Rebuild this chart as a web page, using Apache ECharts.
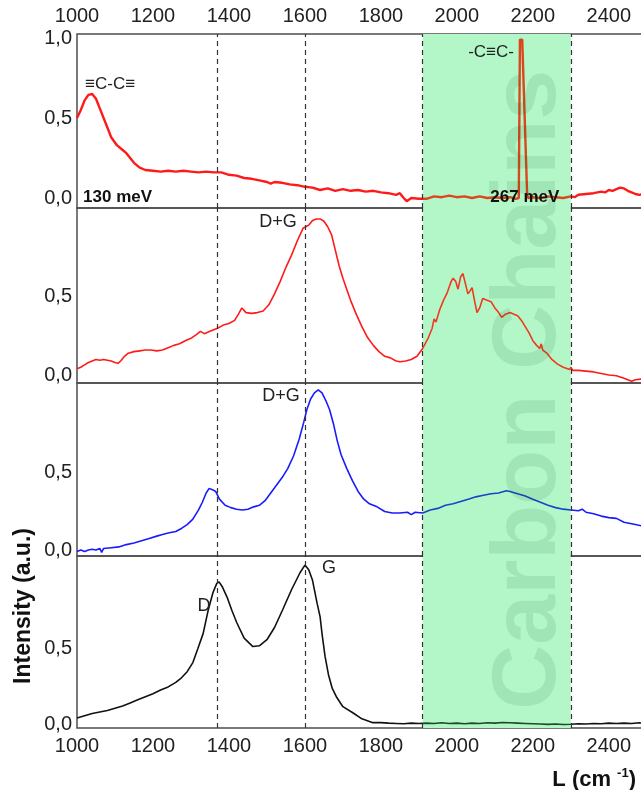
<!DOCTYPE html>
<html>
<head>
<meta charset="utf-8">
<script src="https://cdn.jsdelivr.net/npm/echarts@6/dist/echarts.min.js"></script>
<style>
  html, body { margin: 0; padding: 0; background: #fff; }
  #chart { width: 641px; height: 790px; }
</style>
</head>
<body>
<div id="chart"></div>
<script>
// x tick labels
var xTicks = [1000, 1200, 1400, 1600, 1800, 2000, 2200, 2400]

// panel 1 (top, red)
var shift1 = [1000, 1010, 1020, 1030, 1040, 1050, 1060, 1075, 1090, 1105, 1120, 1130, 1140, 1150, 1165, 1180, 1200, 1220, 1240, 1260, 1280, 1300, 1320, 1340, 1360, 1380, 1400, 1420, 1440, 1460, 1480, 1500, 1510, 1520, 1540, 1560, 1580, 1600, 1620, 1640, 1660, 1680, 1700, 1720, 1740, 1760, 1780, 1800, 1820, 1840, 1850, 1860, 1868, 1880, 1900, 1920, 1940, 1960, 1980, 2000, 2020, 2040, 2060, 2080, 2100, 2120, 2140, 2155, 2163, 2166, 2172, 2185, 2188, 2200, 2220, 2240, 2260, 2280, 2300, 2310, 2320, 2340, 2360, 2380, 2390, 2400, 2410, 2420, 2430, 2440, 2450, 2460, 2470, 2480, 2490]
var int1 = [0.50, 0.55, 0.61, 0.645, 0.65, 0.62, 0.56, 0.47, 0.38, 0.33, 0.30, 0.28, 0.25, 0.22, 0.19, 0.175, 0.17, 0.165, 0.17, 0.165, 0.17, 0.165, 0.16, 0.165, 0.16, 0.16, 0.145, 0.14, 0.125, 0.12, 0.11, 0.10, 0.09, 0.10, 0.095, 0.085, 0.08, 0.07, 0.065, 0.05, 0.06, 0.045, 0.055, 0.045, 0.05, 0.04, 0.045, 0.035, 0.03, 0.02, 0.03, 0.0, -0.02, 0.0, -0.005, -0.005, 0.01, 0.005, 0.015, 0.005, 0.01, 0.0, 0.01, 0.0, 0.005, 0.0, 0.005, -0.005, 0.0, 0.99, 0.99, 0.02, 0.0, 0.005, 0.0, 0.01, 0.005, 0.0, 0.01, 0.005, 0.02, 0.025, 0.03, 0.04, 0.035, 0.05, 0.045, 0.055, 0.065, 0.06, 0.045, 0.035, 0.025, 0.02, 0.025]

// panel 2 (red)
var shift2 = [1000, 1010, 1020, 1030, 1040, 1050, 1060, 1070, 1080, 1090, 1100, 1108, 1115, 1125, 1135, 1150, 1165, 1180, 1195, 1210, 1225, 1240, 1255, 1270, 1285, 1300, 1315, 1325, 1335, 1350, 1370, 1385, 1400, 1415, 1425, 1434, 1445, 1460, 1475, 1490, 1505, 1520, 1535, 1550, 1565, 1580, 1595, 1610, 1620, 1630, 1640, 1650, 1660, 1670, 1680, 1690, 1700, 1710, 1720, 1735, 1750, 1765, 1780, 1795, 1810, 1825, 1840, 1850, 1865, 1880, 1895, 1910, 1925, 1935, 1940, 1945, 1955, 1965, 1975, 1985, 1990, 1997, 2003, 2010, 2016, 2022, 2029, 2035, 2040, 2047, 2053, 2060, 2068, 2078, 2090, 2100, 2110, 2118, 2128, 2140, 2150, 2160, 2170, 2180, 2190, 2200, 2210, 2218, 2222, 2226, 2237, 2250, 2265, 2280, 2297, 2300, 2305, 2320, 2340, 2360, 2380, 2400, 2420, 2440, 2460, 2470, 2490]
var int2 = [0.04, 0.05, 0.065, 0.08, 0.09, 0.10, 0.095, 0.10, 0.095, 0.09, 0.08, 0.075, 0.09, 0.12, 0.14, 0.15, 0.155, 0.16, 0.16, 0.155, 0.16, 0.175, 0.19, 0.20, 0.22, 0.235, 0.26, 0.28, 0.265, 0.28, 0.30, 0.32, 0.33, 0.35, 0.39, 0.43, 0.40, 0.395, 0.40, 0.41, 0.45, 0.52, 0.60, 0.69, 0.77, 0.86, 0.94, 0.96, 0.99, 1.0, 1.0, 0.985, 0.95, 0.90, 0.80, 0.70, 0.62, 0.55, 0.48, 0.39, 0.31, 0.24, 0.19, 0.15, 0.12, 0.11, 0.09, 0.085, 0.09, 0.10, 0.12, 0.17, 0.24, 0.30, 0.36, 0.34, 0.42, 0.48, 0.53, 0.60, 0.62, 0.60, 0.55, 0.63, 0.65, 0.59, 0.52, 0.54, 0.56, 0.47, 0.40, 0.43, 0.49, 0.48, 0.47, 0.43, 0.40, 0.37, 0.39, 0.40, 0.39, 0.38, 0.35, 0.31, 0.27, 0.22, 0.19, 0.17, 0.20, 0.16, 0.14, 0.10, 0.07, 0.05, 0.035, 0.05, 0.03, 0.03, 0.025, 0.02, 0.01, 0.0, -0.005, -0.02, -0.04, -0.03, -0.025]

// panel 3 (blue)
var shift3 = [1000, 1010, 1020, 1030, 1040, 1050, 1060, 1065, 1070, 1090, 1110, 1130, 1150, 1170, 1190, 1210, 1225, 1240, 1260, 1275, 1290, 1305, 1320, 1330, 1340, 1348, 1358, 1365, 1375, 1390, 1405, 1420, 1435, 1450, 1465, 1480, 1495, 1510, 1525, 1540, 1555, 1570, 1585, 1597, 1605, 1615, 1625, 1635, 1645, 1655, 1665, 1675, 1685, 1695, 1710, 1725, 1740, 1755, 1770, 1790, 1810, 1830, 1850, 1870, 1880, 1890, 1910, 1930, 1950, 1970, 1990, 2010, 2030, 2050, 2070, 2090, 2110, 2130, 2140, 2160, 2180, 2200, 2220, 2240, 2260, 2280, 2300, 2320, 2330, 2340, 2360, 2380, 2400, 2420, 2440, 2460, 2470, 2490]
var int3 = [-0.01, 0.0, -0.01, 0.0, 0.005, 0.0, 0.01, -0.015, 0.01, 0.015, 0.02, 0.035, 0.045, 0.06, 0.075, 0.09, 0.10, 0.11, 0.12, 0.14, 0.165, 0.20, 0.26, 0.31, 0.37, 0.40, 0.39, 0.38, 0.33, 0.29, 0.275, 0.265, 0.26, 0.265, 0.28, 0.29, 0.32, 0.37, 0.42, 0.47, 0.53, 0.61, 0.72, 0.83, 0.91, 0.98, 1.02, 1.04, 1.02, 0.97, 0.91, 0.82, 0.71, 0.62, 0.53, 0.45, 0.38, 0.33, 0.30, 0.28, 0.25, 0.24, 0.24, 0.245, 0.23, 0.245, 0.24, 0.26, 0.27, 0.29, 0.30, 0.315, 0.33, 0.345, 0.355, 0.365, 0.37, 0.385, 0.38, 0.365, 0.35, 0.33, 0.31, 0.29, 0.275, 0.265, 0.26, 0.255, 0.265, 0.245, 0.235, 0.22, 0.21, 0.205, 0.18, 0.17, 0.165, 0.155]

// panel 4 (black)
var shift4 = [1000, 1020, 1040, 1060, 1080, 1100, 1120, 1140, 1160, 1180, 1200, 1220, 1240, 1260, 1275, 1290, 1305, 1318, 1332, 1345, 1358, 1368, 1374, 1382, 1395, 1408, 1421, 1440, 1463, 1480, 1500, 1520, 1542, 1565, 1587, 1600, 1610, 1620, 1632, 1640, 1645, 1653, 1662, 1672, 1684, 1700, 1726, 1750, 1779, 1800, 1820, 1840, 1860, 1880, 1900, 1920, 1940, 1960, 1980, 2000, 2020, 2040, 2060, 2080, 2100, 2120, 2140, 2160, 2180, 2200, 2220, 2240, 2260, 2280, 2300, 2320, 2340, 2360, 2380, 2400, 2420, 2440, 2460, 2480, 2490]
var int4 = [0.045, 0.06, 0.075, 0.085, 0.095, 0.11, 0.125, 0.145, 0.165, 0.185, 0.205, 0.23, 0.25, 0.28, 0.31, 0.35, 0.41, 0.50, 0.60, 0.75, 0.87, 0.93, 0.94, 0.91, 0.84, 0.75, 0.67, 0.57, 0.515, 0.52, 0.56, 0.64, 0.76, 0.89, 1.0, 1.05, 1.02, 0.95, 0.80, 0.71, 0.60, 0.45, 0.33, 0.24, 0.18, 0.12, 0.08, 0.04, 0.015, 0.015, 0.012, 0.01, 0.008, 0.012, 0.01, 0.012, 0.01, 0.014, 0.01, 0.012, 0.008, 0.012, 0.01, 0.014, 0.012, 0.016, 0.014, 0.012, 0.01, 0.008, 0.006, 0.004, 0.006, 0.003, 0.005, 0.008, 0.006, 0.01, 0.008, 0.012, 0.01, 0.012, 0.01, 0.014, 0.012]

// dashed guides and green band
var guides = [1370, 1600, 1910, 2300]
var band = [1910, 2300]

var font = "'Liberation Sans', Arial, sans-serif"
// tint = line colour inside the green band
var panels = [
  { top: 34, height: 174, min: -0.0625, max: 1.025, ticks: [0, 0.5, 1], x: shift1, y: int1, color: '#ff1a1a', tint: '#d9481c', width: 2.4 },
  { top: 208, height: 175, min: -0.051, max: 1.07, ticks: [0, 0.5], x: shift2, y: int2, color: '#ff1a1a', tint: '#ee3a1e', width: 1.6 },
  { top: 383, height: 173, min: -0.039, max: 1.084, ticks: [0, 0.5], x: shift3, y: int3, color: '#1a1aff', tint: '#1646c8', width: 1.6 },
  { top: 556, height: 172, min: -0.02, max: 1.11, ticks: [0, 0.5], x: shift4, y: int4, color: '#111', tint: '#1c4a28', width: 1.6 }
]

var grid = [], xAxis = [], yAxis = [], series = [], visualMap = []
panels.forEach(function (p, i) {
  grid.push({
    left: 77, width: 566, top: p.top, height: p.height,
    outerBoundsMode: 'none', containLabel: false,
    show: true, borderColor: '#4d4d4d', borderWidth: 1.5
  })
  var showX = i === 0 || i === 3
  xAxis.push({
    type: 'value', gridIndex: i, min: 1000, max: 2490, interval: 200,
    position: i === 0 ? 'top' : 'bottom',
    axisLine: { show: false }, axisTick: { show: false }, splitLine: { show: false },
    axisLabel: {
      show: showX, margin: 8, fontSize: 20, color: '#222', fontFamily: font,
      formatter: function (v) { return xTicks.indexOf(v) >= 0 ? String(v) : '' }
    }
  })
  yAxis.push({
    type: 'value', gridIndex: i, min: p.min, max: p.max,
    axisLine: { show: false }, axisTick: { show: false }, splitLine: { show: false },
    axisLabel: {
      customValues: p.ticks, margin: 5, fontSize: 20, color: '#222', fontFamily: font,
      formatter: function (v) { return p.ticks.indexOf(v) >= 0 ? v.toFixed(1).replace('.', ',') : '' }
    }
  })
  visualMap.push({
    type: 'piecewise', show: false, seriesIndex: i, dimension: 0,
    pieces: [{ gte: band[0], lte: band[1], color: p.tint }],
    outOfRange: { color: p.color }
  })
  series.push({
    type: 'line', xAxisIndex: i, yAxisIndex: i, showSymbol: false, animation: false,
    data: p.x.map(function (v, k) { return [v, p.y[k]] }),
    lineStyle: { width: p.width },
    markArea: {
      silent: true,
      itemStyle: { color: '#b3f7c8' },
      data: [[{ xAxis: band[0] }, { xAxis: band[1] }]]
    },
    markLine: {
      silent: true, symbol: 'none', animation: false,
      label: { show: false },
      lineStyle: { color: '#333', type: [5, 4], width: 1.2 },
      data: guides.map(function (g) { return { xAxis: g } })
    }
  })
})

var myChart = echarts.init(document.getElementById('chart'))
myChart.setOption({ animation: false, grid: grid, xAxis: xAxis, yAxis: yAxis, visualMap: visualMap, series: series })

// annotations placed from data coordinates
function at (gi, x, y) { return myChart.convertToPixel({ gridIndex: gi }, [x, y]) }
function label (gi, x, y, text, opt) {
  var pt = at(gi, x, y)
  opt = opt || {}
  return {
    type: 'text', x: pt[0], y: pt[1], z: 50, rotation: opt.rotation || 0,
    style: {
      text: text, fill: opt.fill || '#222', fontFamily: font,
      fontSize: opt.size || 18, fontWeight: opt.weight || 'normal',
      align: opt.align || 'center', verticalAlign: 'middle'
    }
  }
}
var wm = at(2, 2192, 1.04)
var graphic = [
  { type: 'text', x: wm[0], y: wm[1], z: 40, rotation: Math.PI / 2,
    style: { text: 'Carbon Chains', fill: 'rgba(0,80,30,0.1)', fontFamily: font, fontSize: 90, fontWeight: 'bold', align: 'center', verticalAlign: 'middle' } },
  label(0, 1087, 0.71, '≡C-C≡', { size: 17 }),
  label(0, 2090, 0.91, '-C≡C-', { size: 17 }),
  label(0, 1016, 0.006, '130 meV', { size: 17, weight: 'bold', align: 'left', fill: '#111' }),
  label(0, 2179, 0.006, '267 meV', { size: 17, weight: 'bold', fill: '#111' }),
  label(1, 1529, 0.98, 'D+G'),
  label(2, 1537, 1.0, 'D+G'),
  label(3, 1334, 0.78, 'D'),
  label(3, 1645, 1.03, 'G', { align: 'left' }),
  { type: 'text', x: 24, y: 606, z: 50, rotation: Math.PI / 2,
    style: { text: 'Intensity (a.u.)', fill: '#111', fontFamily: font, fontSize: 23, fontWeight: 'bold', align: 'center', verticalAlign: 'middle' } },
  { type: 'text', x: 636, y: 780, z: 50,
    style: {
      text: '{a|L (cm }{b|-1}{a|)}', align: 'right', verticalAlign: 'middle',
      rich: {
        a: { fontFamily: font, fontSize: 22, fontWeight: 'bold', fill: '#111', lineHeight: 26 },
        b: { fontFamily: font, fontSize: 13, fontWeight: 'bold', fill: '#111', verticalAlign: 'top', lineHeight: 26 }
      }
    } }
]
myChart.setOption({ graphic: graphic })
</script>
</body>
</html>
